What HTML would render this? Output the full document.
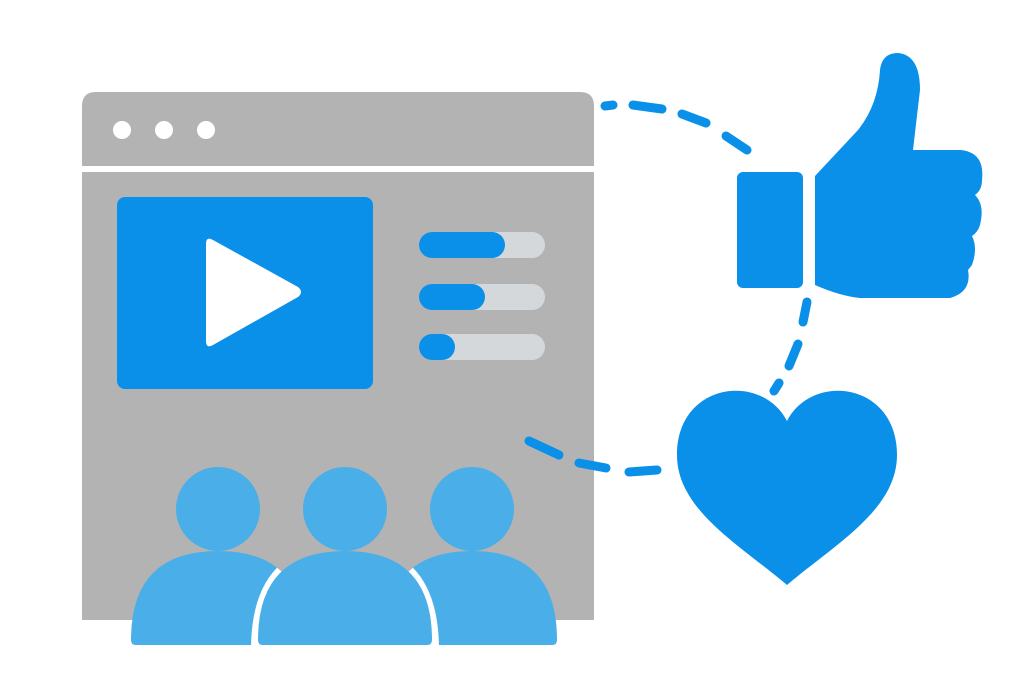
<!DOCTYPE html>
<html><head><meta charset="utf-8"><style>html,body{margin:0;padding:0;background:#fff}svg{display:block}</style></head>
<body>
<svg width="1024" height="683" viewBox="0 0 1024 683" xmlns="http://www.w3.org/2000/svg">
<defs><clipPath id="sides">
<path d="M131,640 Q131,551 218,551 Q305,551 305,640 L305,650 L131,650Z"/>
<path d="M385,640 Q385,551 472,551 Q557,551 557,640 L557,650 L385,650Z"/>
</clipPath></defs>
<rect width="1024" height="683" fill="#fff"/>
<path d="M82,620 L82,106 Q82,92 96,92 L580,92 Q594,92 594,106 L594,620 Z" fill="#b3b3b3"/>
<rect x="82" y="166" width="512" height="6" fill="#fff"/>
<circle cx="122" cy="130" r="9" fill="#fff"/><circle cx="164" cy="130" r="9" fill="#fff"/><circle cx="206" cy="130" r="9" fill="#fff"/>
<rect x="117" y="197" width="256" height="192" rx="8" fill="#0a90e8"/>
<path d="M206,244 Q206,236 213,240 L298,287 Q304,292 298,297 L213,345 Q206,349 206,341 Z" fill="#fff"/>
<g stroke-linecap="round" stroke-width="26">
<line x1="432" y1="245" x2="532" y2="245" stroke="#d5d8db"/>
<line x1="432" y1="297" x2="532" y2="297" stroke="#d5d8db"/>
<line x1="432" y1="347" x2="532" y2="347" stroke="#d5d8db"/>
<line x1="432" y1="245" x2="492" y2="245" stroke="#0a90e8"/>
<line x1="432" y1="297" x2="472" y2="297" stroke="#0a90e8"/>
<line x1="432" y1="347" x2="442" y2="347" stroke="#0a90e8"/>
</g>
<g fill="#4aaee8">
<circle cx="218" cy="509" r="42"/><circle cx="345" cy="509" r="42"/><circle cx="472" cy="509" r="42"/>
<path d="M131,640 Q131,551 218,551 Q305,551 305,640 Q305,645 300,645 L136,645 Q131,645 131,640Z"/>
<path d="M385,640 Q385,551 472,551 Q557,551 557,640 Q557,645 552,645 L390,645 Q385,645 385,640Z"/>
<path d="M251,650 Q251,544 345,544 Q439,544 439,650Z" fill="#fff" clip-path="url(#sides)"/>
<path d="M258,640 Q258,551 345,551 Q432,551 432,640 Q432,645 427,645 L263,645 Q258,645 258,640Z"/>
</g>
<rect x="737" y="172" width="66" height="116" rx="6" fill="#0a90e8"/>
<path d="M815,176 L858,130 Q878,105 880,70 Q882,53 898,53 Q920,55 920,90 L913,150 L960,150 Q985,152 982,180 Q982,190 975,195 Q985,205 980,225 Q978,232 972,236 Q978,248 972,265 L968,270 Q972,292 950,298 L860,298 Q840,296 815,285 Z" fill="#0a90e8"/>
<path d="M787,585 C740,545 677,510 677,455 C677,382 762,372 787,421 C812,372 897,382 897,455 C897,510 834,545 787,585Z" fill="#0a90e8"/>
<g stroke="#0a90e8" stroke-width="9" stroke-linecap="round" fill="none">
<line x1="605" y1="106" x2="613" y2="105"/>
<line x1="633" y1="105" x2="662" y2="109"/>
<line x1="682" y1="114" x2="706" y2="123"/>
<line x1="726" y1="136" x2="747" y2="150"/>
<line x1="807" y1="302" x2="803" y2="322"/>
<line x1="798" y1="344" x2="789" y2="366"/>
<line x1="779" y1="383" x2="774" y2="391"/>
<line x1="529" y1="441" x2="559" y2="455"/>
<line x1="579" y1="463" x2="606" y2="468"/>
<line x1="629" y1="472" x2="657" y2="470"/>
</g>
</svg>
</body></html>
